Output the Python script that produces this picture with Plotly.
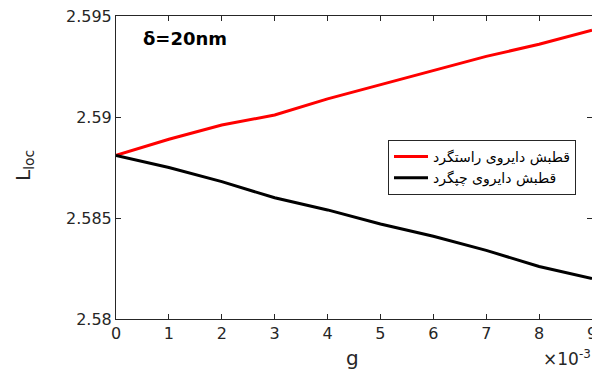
import plotly.graph_objects as go

g_vals = [0, 1, 2, 3, 4, 5, 6, 7, 8, 9]
rcp = [2.5881, 2.5889, 2.5896, 2.5901, 2.5909, 2.5916, 2.5923, 2.5930, 2.5936, 2.5943]
lcp = [2.5881, 2.5875, 2.5868, 2.5860, 2.5854, 2.5847, 2.5841, 2.5834, 2.5826, 2.5820]
names = ["قطبش دایروی راستگرد", "قطبش دایروی چپگرد"]
x_ticks = [0, 1, 2, 3, 4, 5, 6, 7, 8, 9]
y_ticks = [2.58, 2.585, 2.59, 2.595]
y_tick_text = ["2.58", "2.585", "2.59", "2.595"]

fig = go.Figure()
fig.add_trace(go.Scatter(x=g_vals, y=rcp, mode="lines", name=names[0],
                         line=dict(color="#ff0000", width=3)))
fig.add_trace(go.Scatter(x=g_vals, y=lcp, mode="lines", name=names[1],
                         line=dict(color="#000000", width=3)))

tickfont = dict(family="DejaVu Sans", size=16, color="#262626")
L, R, T, B = 116, 0, 16, 52
pw = 592 - L - R
ph = 371 - T - B
fig.update_layout(
    width=592, height=371,
    margin=dict(l=L, r=R, t=T, b=B, autoexpand=False),
    paper_bgcolor="white", plot_bgcolor="white",
    showlegend=True,
    legend=dict(x=(388 - L) / pw, y=1 - (140 - T) / ph, xanchor="left", yanchor="top",
                bgcolor="white", bordercolor="#262626", borderwidth=1,
                font=dict(family="DejaVu Sans", size=14, color="black"),
                tracegroupgap=0, itemwidth=34),
    xaxis=dict(range=[0, 9], tickvals=x_ticks, ticktext=[str(v) for v in x_ticks],
               ticks="inside", ticklen=5, tickcolor="#262626", showline=True,
               linecolor="#262626", linewidth=1, mirror="ticks", showgrid=False,
               zeroline=False, tickfont=tickfont, automargin=False,
               ticklabeloverflow="allow"),
    yaxis=dict(range=[2.58, 2.595], tickvals=y_ticks, ticktext=y_tick_text,
               ticks="inside", ticklen=5, tickcolor="#262626", showline=True,
               linecolor="#262626", linewidth=1, mirror="ticks", showgrid=False,
               zeroline=False, tickfont=tickfont, automargin=False,
               ticklabeloverflow="allow"),
    annotations=[
        dict(text="<b>δ=20nm</b>", x=(141 - L) / pw, y=1 - (38 - T) / ph,
             xref="paper", yref="paper",
             xanchor="left", yanchor="middle", showarrow=False,
             font=dict(family="DejaVu Sans", size=18, color="black")),
        dict(text="g", x=(352 - L) / pw, y=-(358 - 371 + B) / ph,
             xref="paper", yref="paper", showarrow=False, yanchor="middle",
             font=dict(family="DejaVu Sans", size=20, color="#262626")),
        dict(text="L<sub>loc</sub>", x=-(L - 24) / pw, y=1 - (166 - T) / ph,
             xref="paper", yref="paper", xanchor="center", yanchor="middle",
             showarrow=False, textangle=-90,
             font=dict(family="DejaVu Sans", size=20, color="#262626")),
        dict(text="×10<sup>-3</sup>", x=(593 - L) / pw, y=-(358 - 371 + B) / ph,
             xref="paper", yref="paper",
             xanchor="right", yanchor="middle", showarrow=False,
             font=dict(family="DejaVu Sans", size=17, color="#262626")),
    ],
)

fig.write_html("out.html", config={"displayModeBar": False},
               post_script="document.body.style.margin='0';document.body.style.overflow='hidden';")
